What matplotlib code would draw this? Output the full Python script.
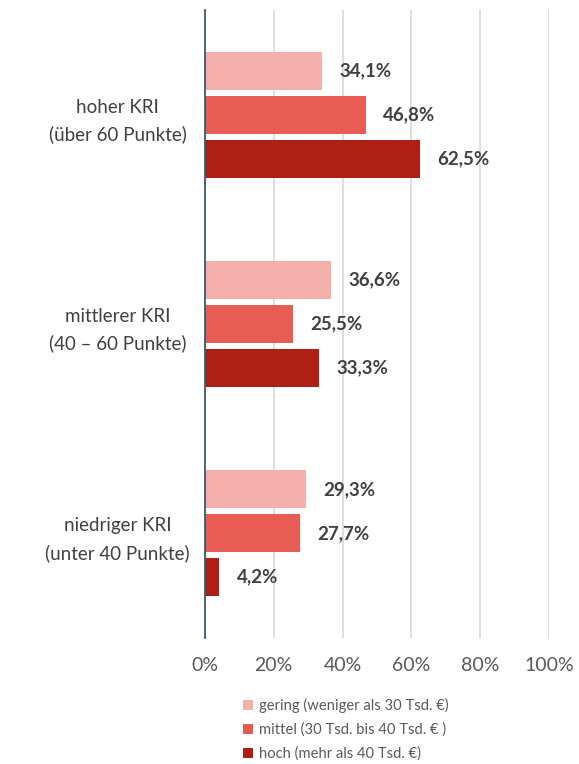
import matplotlib.pyplot as plt
import numpy as np

plt.rcParams.update({'font.family': ['Lato', 'DejaVu Sans']})

# KRI groups, top to bottom
categories = ['hoher KRI\n(über 60 Punkte)', 'mittlerer KRI\n(40 – 60 Punkte)',
              'niedriger KRI\n(unter 40 Punkte)']
series_names = ['gering (weniger als 30 Tsd. €)', 'mittel (30 Tsd. bis 40 Tsd. € )',
                'hoch (mehr als 40 Tsd. €)']
gering = [34.1, 36.6, 29.3]
mittel = [46.8, 25.5, 27.7]
hoch = [62.5, 33.3, 4.2]
xticks = [0, 20, 40, 60, 80, 100]

colors = ['#F4AFAB', '#E85D53', '#AE2015']
series = [gering, mittel, hoch]

fig = plt.figure(figsize=(5.79, 7.64), dpi=100)
ax = fig.add_axes([0.354, 0.165, 0.594, 0.822])

y = np.arange(len(categories))
offsets = [-0.21, 0.0, 0.21]
h = 0.182
for vals, off, col, name in zip(series, offsets, colors, series_names):
    bars = ax.barh(y + off, vals, height=h, color=col, label=name, zorder=3)
    for b, v in zip(bars, vals):
        ax.text(v + 5.0, b.get_y() + h / 2, f'{v:.1f}%'.replace('.', ','),
                va='center', ha='left', fontsize=13.5, fontweight='bold', color='#404040')

ax.set_xlim(0, 100)
ax.set_ylim(2.5, -0.5)
ax.set_xticks(xticks)
ax.set_xticklabels([f'{t}%' for t in xticks], fontsize=14, color='#595959')
ax.set_yticks(y)
ax.set_yticklabels(categories, fontsize=13.5, color='#404040', linespacing=1.65, ha='center')
ax.tick_params(axis='y', length=0, pad=63)
ax.tick_params(axis='x', length=0, pad=14)
ax.grid(axis='x', color='#D9D9D9', lw=1.2, zorder=0)
for s in ['top', 'right', 'bottom']:
    ax.spines[s].set_visible(False)
ax.spines['left'].set_color('#44546A')
ax.spines['left'].set_linewidth(1.3)
ax.spines['left'].set_zorder(4)

leg = fig.legend(loc='upper left', bbox_to_anchor=(0.41, 0.094), frameon=False,
                 fontsize=10.6, handlelength=0.65, handleheight=0.65, handletextpad=0.4,
                 labelspacing=0.65, borderaxespad=0)
for t in leg.get_texts():
    t.set_color('#595959')

fig.savefig('out.png', dpi=100)
